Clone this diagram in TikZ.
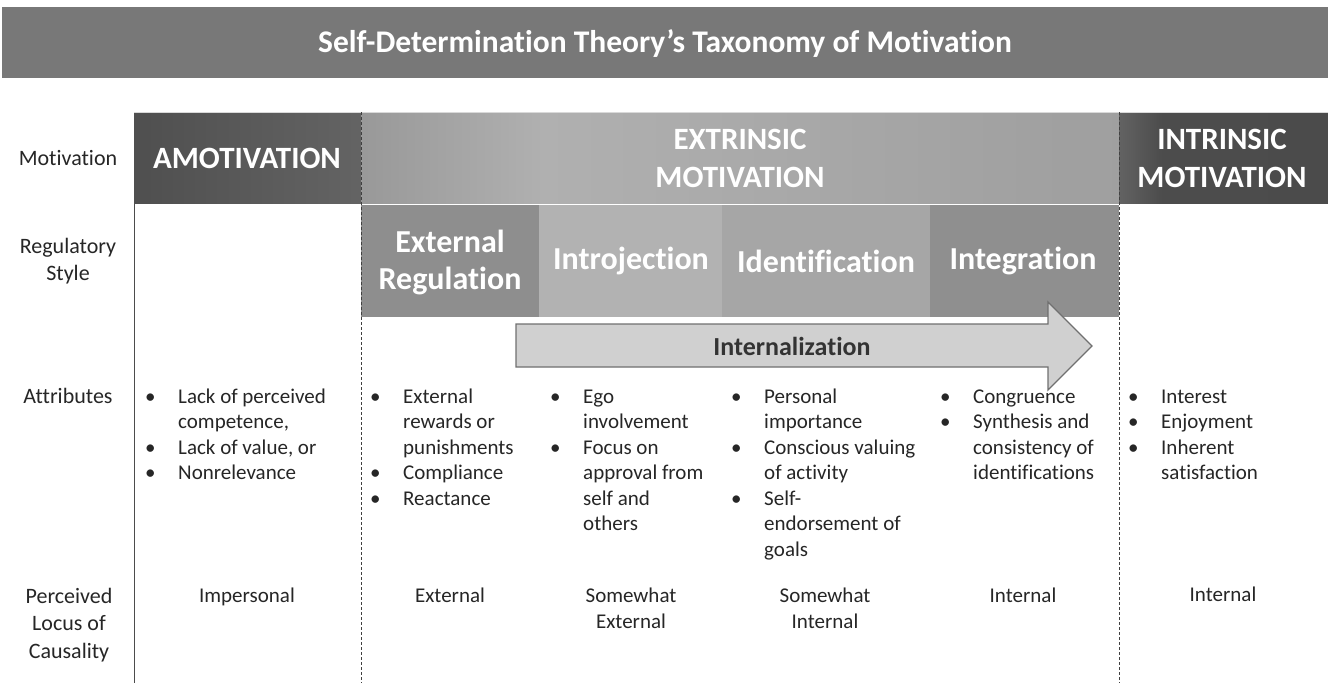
\documentclass[tikz,border=0pt]{standalone}
\usepackage{fontspec}
\setmainfont{Carlito}[Ligatures={NoCommon}]
\definecolor{titlegray}{HTML}{787878}
\definecolor{extreg}{HTML}{8E8E8E}
\definecolor{introj}{HTML}{B2B2B2}
\definecolor{ident}{HTML}{A6A6A6}
\definecolor{integ}{HTML}{8F8F8F}
\definecolor{arrfill}{HTML}{D0D0D0}
\definecolor{arrline}{HTML}{707070}
\definecolor{txt}{HTML}{262626}
\pgfdeclarehorizontalshading{amoshade}{100bp}{color(0bp)=(black!73);color(100bp)=(black!57)}
\pgfdeclarehorizontalshading{extshade}{100bp}{color(0bp)=(black!59);color(12bp)=(black!50);color(37bp)=(black!31);color(70bp)=(black!37);color(100bp)=(black!40)}
\pgfdeclarehorizontalshading{intshade}{100bp}{color(0bp)=(black!40);color(35bp)=(black!70);color(100bp)=(black!71)}
\tikzset{
  x=1pt,y=-1pt,
  rowlabel/.style={font=\fontsize{22}{27}\selectfont,text=txt,align=center,inner sep=0pt},
  bighead/.style={font=\fontsize{31}{38}\selectfont\bfseries,text=white,align=center,inner sep=0pt},
  reghead/.style={font=\fontsize{32}{37}\selectfont\bfseries,text=white,align=center,inner sep=0pt},
  attrlist/.style={font=\fontsize{21}{25.5}\selectfont,text=txt,align=left,inner sep=0pt,anchor=base west},
  locus/.style={font=\fontsize{21}{26}\selectfont,text=txt,align=center,inner sep=0pt,anchor=base},
  sep/.style={draw=black!75,line width=0.9pt,dashed,dash pattern=on 3pt off 2pt},
}
\newcommand\bul{\makebox[33pt][l]{•}}
\newcommand\cnt{\hspace*{33pt}}
\begin{document}
\begin{tikzpicture}
\useasboundingbox (0,0) rectangle (1328,683);
% title
\fill[titlegray] (2,7) rectangle (1328,78);
\node[font=\fontsize{31.5}{36}\selectfont\bfseries,text=white,inner sep=0pt] (title) at (665,44) {Self-Determination Theory’s Taxonomy of Motivation};
% motivation bar
\shade[shading=amoshade] (134,112) rectangle (361,203);
\shade[shading=extshade] (361,112) rectangle (1119,203);
\shade[shading=intshade] (1119,112) rectangle (1328,203);
\draw[white!85!black,line width=0.8pt] (134,112) -- (1328,112);
% regulatory styles
\fill[extreg] (361,205) rectangle (539,317);
\fill[introj] (539,205) rectangle (722,317);
\fill[ident] (722,205) rectangle (930,317);
\fill[integ] (930,205) rectangle (1119,317);
% separators
\draw[black!70,line width=1.6pt] (134.5,204) -- (134.5,683);
\draw[sep] (361,112) -- (361,683);
\draw[sep] (1119,112) -- (1119,683);
% arrow
\draw[fill=arrfill,draw=arrline,line width=1.3pt,line join=miter]
  (516,324) -- (1048,324) -- (1048,302) -- (1092,346) -- (1048,390) -- (1048,367) -- (516,367) -- cycle;
\node[font=\fontsize{26}{30}\selectfont\bfseries,text=black!80,inner sep=0pt] (intern) at (792,346) {Internalization};
% row labels (base anchor = baseline of last line)
\node[rowlabel] (lmot) at (68,158) {Motivation};
\node[rowlabel] (lreg) at (68,261) {Regulatory\\Style};
\node[rowlabel,anchor=base] (lattr) at (68,403) {Attributes};
\node[rowlabel,anchor=base,font=\fontsize{22}{27.5}\selectfont] (lloc) at (69,658) {Perceived\\Locus of\\Causality};
% motivation headers
\node[bighead] (amo) at (247,158) {AMOTIVATION};
\node[bighead] (ext) at (740,158) {EXTRINSIC\\MOTIVATION};
\node[bighead] (int) at (1222,158) {INTRINSIC\\MOTIVATION};
% regulatory headers
\node[reghead] (rext) at (450,262) {External\\Regulation};
\node[reghead] (rintro) at (631,261) {Introjection};
\node[reghead] (rident) at (826,261) {Identification};
\node[reghead] (rinteg) at (1023,261) {Integration};
% attributes (first baseline at 403, line step 25.5)
\node[attrlist] (a1) at (145,479.5) {\bul Lack of perceived\\\cnt competence,\\\bul Lack of value, or\\\bul Nonrelevance};
\node[attrlist] (a2) at (370,505) {\bul External\\\cnt rewards or\\\cnt punishments\\\bul Compliance\\\bul Reactance};
\node[attrlist] (a3) at (550,530.5) {\bul Ego\\\cnt involvement\\\bul Focus on\\\cnt approval from\\\cnt self and\\\cnt others};
\node[attrlist] (a4) at (731,556) {\bul Personal\\\cnt importance\\\bul Conscious valuing\\\cnt of activity\\\bul Self-\\\cnt endorsement of\\\cnt goals};
\node[attrlist] (a5) at (940,479.5) {\bul Congruence\\\bul Synthesis and\\\cnt consistency of\\\cnt identifications};
\node[attrlist] (a6) at (1128,479.5) {\bul Interest\\\bul Enjoyment\\\bul Inherent\\\cnt satisfaction};
% locus
\node[locus] (p1) at (247,602) {Impersonal};
\node[locus] (p2) at (450,602) {External};
\node[locus] (p3) at (631,628) {Somewhat\\External};
\node[locus] (p4) at (825,628) {Somewhat\\Internal};
\node[locus] (p5) at (1023,602) {Internal};
\node[locus] (p6) at (1223,601) {Internal};
\end{tikzpicture}
\end{document}
